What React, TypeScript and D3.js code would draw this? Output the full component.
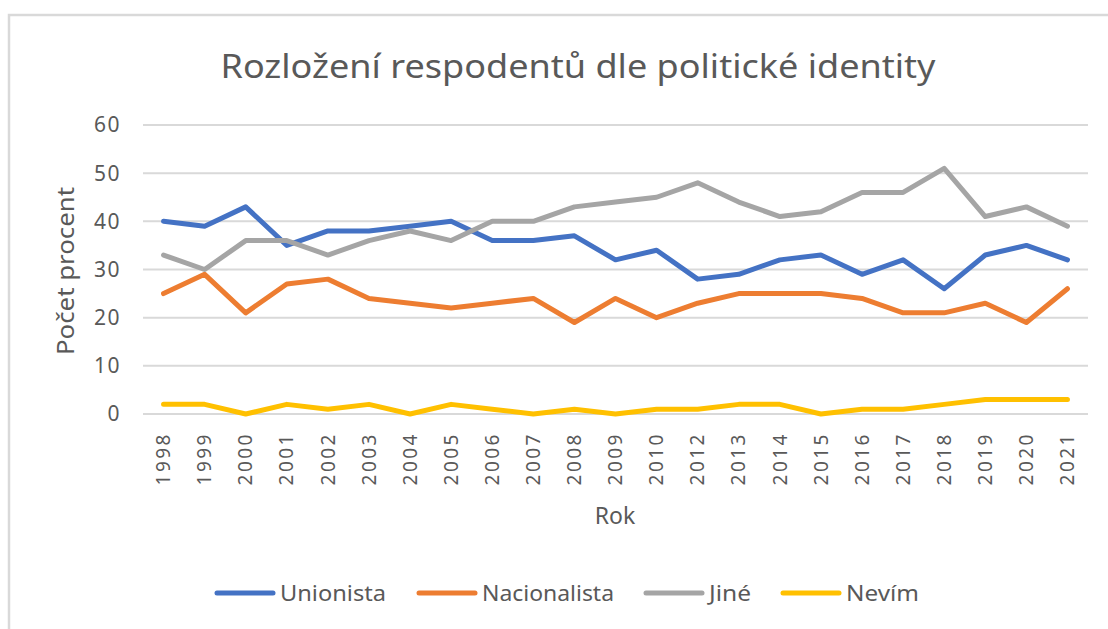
import React from "react";
import * as d3 from "d3";

const years = ["1998","1999","2000","2001","2002","2003","2004","2005","2006","2007","2008","2009","2010","2012","2013","2014","2015","2016","2017","2018","2019","2020","2021"];
const unionista = [40,39,43,35,38,38,39,40,36,36,37,32,34,28,29,32,33,29,32,26,33,35,32];
const nacionalista = [25,29,21,27,28,24,23,22,23,24,19,24,20,23,25,25,25,24,21,21,23,19,26];
const jine = [33,30,36,36,33,36,38,36,40,40,43,44,45,48,44,41,42,46,46,51,41,43,39];
const nevim = [2,2,0,2,1,2,0,2,1,0,1,0,1,1,2,2,0,1,1,2,3,3,3];
const yTicks = [0,10,20,30,40,50,60];
const seriesNames = ["Unionista","Nacionalista","Jiné","Nevím"];
const colors = ["#4472C4","#ED7D31","#A5A5A5","#FFC000"];

const W = 1108, H = 629;
const FONT = "'Noto Sans', 'Open Sans', sans-serif";

export default function App() {
  const x = d3.scaleBand<string>().domain(years).range([143, 1088]);
  const y = d3.scaleLinear().domain([0, 60]).range([414, 125]);
  const cx = (d: string) => (x(d) as number) + x.bandwidth() / 2;
  const all = [unionista, nacionalista, jine, nevim];
  const line = d3.line<number>().x((_, i) => cx(years[i])).y((v) => y(v));
  const legendX = [217, 419, 646, 783];
  const legendLen = [106, 132, 42, 73];

  return (
    <svg width={W} height={H} style={{ position: "absolute", left: 0, top: 0, display: "block" }} fontFamily={FONT}>
      <rect x={0} y={0} width={W} height={H} fill="#fff" />
      <rect x={9} y={15} width={W + 20} height={H + 20} fill="#fff" stroke="#D9D9D9" strokeWidth={2.5} />
      <text x={578} y={78} textAnchor="middle" fontSize={32} fill="#595959" textLength={715} lengthAdjust="spacingAndGlyphs">
        Rozložení respodentů dle politické identity
      </text>
      {yTicks.map((t) => (
        <g key={t}>
          <line x1={143} x2={1088} y1={y(t)} y2={y(t)} stroke="#D9D9D9" strokeWidth={2} />
          <text x={121} y={y(t)} dy="0.35em" textAnchor="end" fontSize={21} letterSpacing={1.5} fill="#595959">{t}</text>
        </g>
      ))}
      <text transform={`translate(74,271) rotate(-90)`} textAnchor="middle" fontSize={23} fill="#595959" textLength={168} lengthAdjust="spacingAndGlyphs">Počet procent</text>
      {years.map((yr) => (
        <text key={yr} transform={`translate(${cx(yr)},432) rotate(-90)`} textAnchor="end" dy="0.35em" fontSize={19} letterSpacing={2.5} fill="#595959">{yr}</text>
      ))}
      <text x={615} y={524} textAnchor="middle" fontSize={23} fill="#595959">Rok</text>
      {all.map((s, i) => (
        <path key={i} d={line(s) as string} fill="none" stroke={colors[i]} strokeWidth={5} strokeLinejoin="round" strokeLinecap="round" />
      ))}
      {seriesNames.map((n, i) => (
        <g key={n}>
          <line x1={legendX[i]} x2={legendX[i] + 56} y1={593} y2={593} stroke={colors[i]} strokeWidth={5} strokeLinecap="round" />
          <text x={legendX[i] + 63} y={593} dy="0.35em" fontSize={22} fill="#595959" textLength={legendLen[i]} lengthAdjust="spacingAndGlyphs">{n}</text>
        </g>
      ))}
    </svg>
  );
}
